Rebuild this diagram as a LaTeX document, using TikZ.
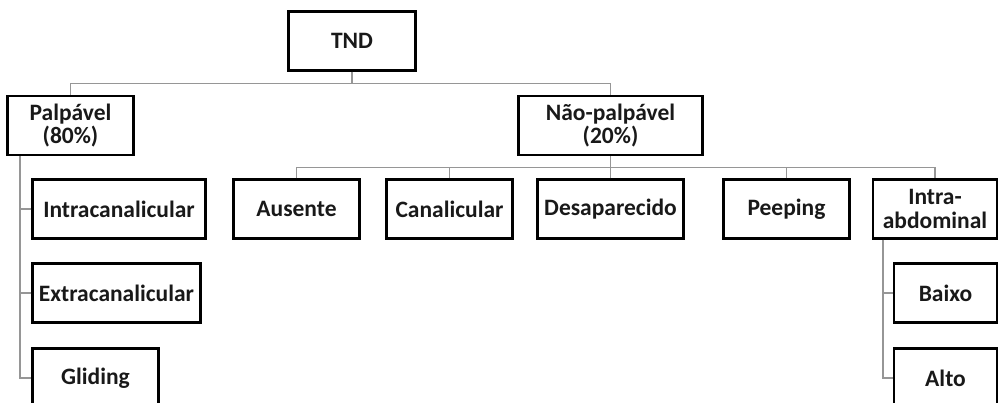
\documentclass[tikz,border=0pt]{standalone}
\usepackage{fontspec}
\setmainfont{Carlito}
\usepackage{xcolor}
\usepackage{tikz}
\definecolor{boxColor}{RGB}{25, 25, 25}
\definecolor{linkColor}{RGB}{150, 150, 150}

\begin{document}
\begin{tikzpicture}[x=1pt, y=-1pt, font=\bfseries\fontsize{23.5}{23.5}\selectfont,
	box/.style={draw=black, line width=2.2pt, text=boxColor, align=center, inner sep=0pt, minimum height=59pt},
	link/.style={draw=linkColor, line width=1.3pt}]
	\useasboundingbox (0,0) rectangle (999,403);

	% Root
	\node[box, minimum width=127] (tnd) at (352,41) {TND};

	% First level
	\node[box, minimum width=126] (palp) at (70.5,125.5) {Palpável\\(80\%)};
	\node[box, minimum width=184] (naopalp) at (610.5,125.5) {Não-palpável\\(20\%)};

	% Palpable types
	\node[box, minimum width=173] (intracan) at (119,209) {Intracanalicular};
	\node[box, minimum width=168] (extracan) at (116.5,293) {Extracanalicular};
	\node[box, minimum width=126] (gliding) at (95.5,378) {Gliding};

	% Non-palpable types
	\node[box, minimum width=126] (ausente) at (296.5,209) {Ausente};
	\node[box, minimum width=126] (canalic) at (449.5,209) {Canalicular};
	\node[box, minimum width=146] (desap) at (610.5,209) {Desaparecido};
	\node[box, minimum width=126] (peeping) at (786.5,209) {Peeping};
	\node[box, minimum width=124] (intraabd) at (935,209) {Intra-\\abdominal};

	% Intra-abdominal types
	\node[box, minimum width=103] (baixo) at (945.5,293) {Baixo};
	\node[box, minimum width=103] (alto) at (945.5,378) {Alto};

	% Root links
	\draw[link] (tnd.south) -- ++(0,12) coordinate (busA);
	\draw[link] (palp.north) |- (busA) -| (naopalp.north);

	% Non-palpable links
	\draw[link] (naopalp.south) -- ++(0,11.5) coordinate (busB);
	\draw[link] (ausente.north) |- (busB) -| (intraabd.north);
	\foreach \c in {canalic, desap, peeping}
		\draw[link] (\c.north) -- (\c.north |- busB);

	% Palpable links
	\coordinate (palpstem) at ([xshift=13.5pt]palp.south west);
	\draw[link] (palpstem) |- (gliding.west);
	\foreach \c in {intracan, extracan}
		\draw[link] (\c.west) -- (\c.west -| palpstem);

	% Intra-abdominal links
	\coordinate (abdstem) at ([xshift=11pt]intraabd.south west);
	\draw[link] (abdstem) |- (alto.west);
	\draw[link] (baixo.west) -- (baixo.west -| abdstem);
\end{tikzpicture}
\end{document}
